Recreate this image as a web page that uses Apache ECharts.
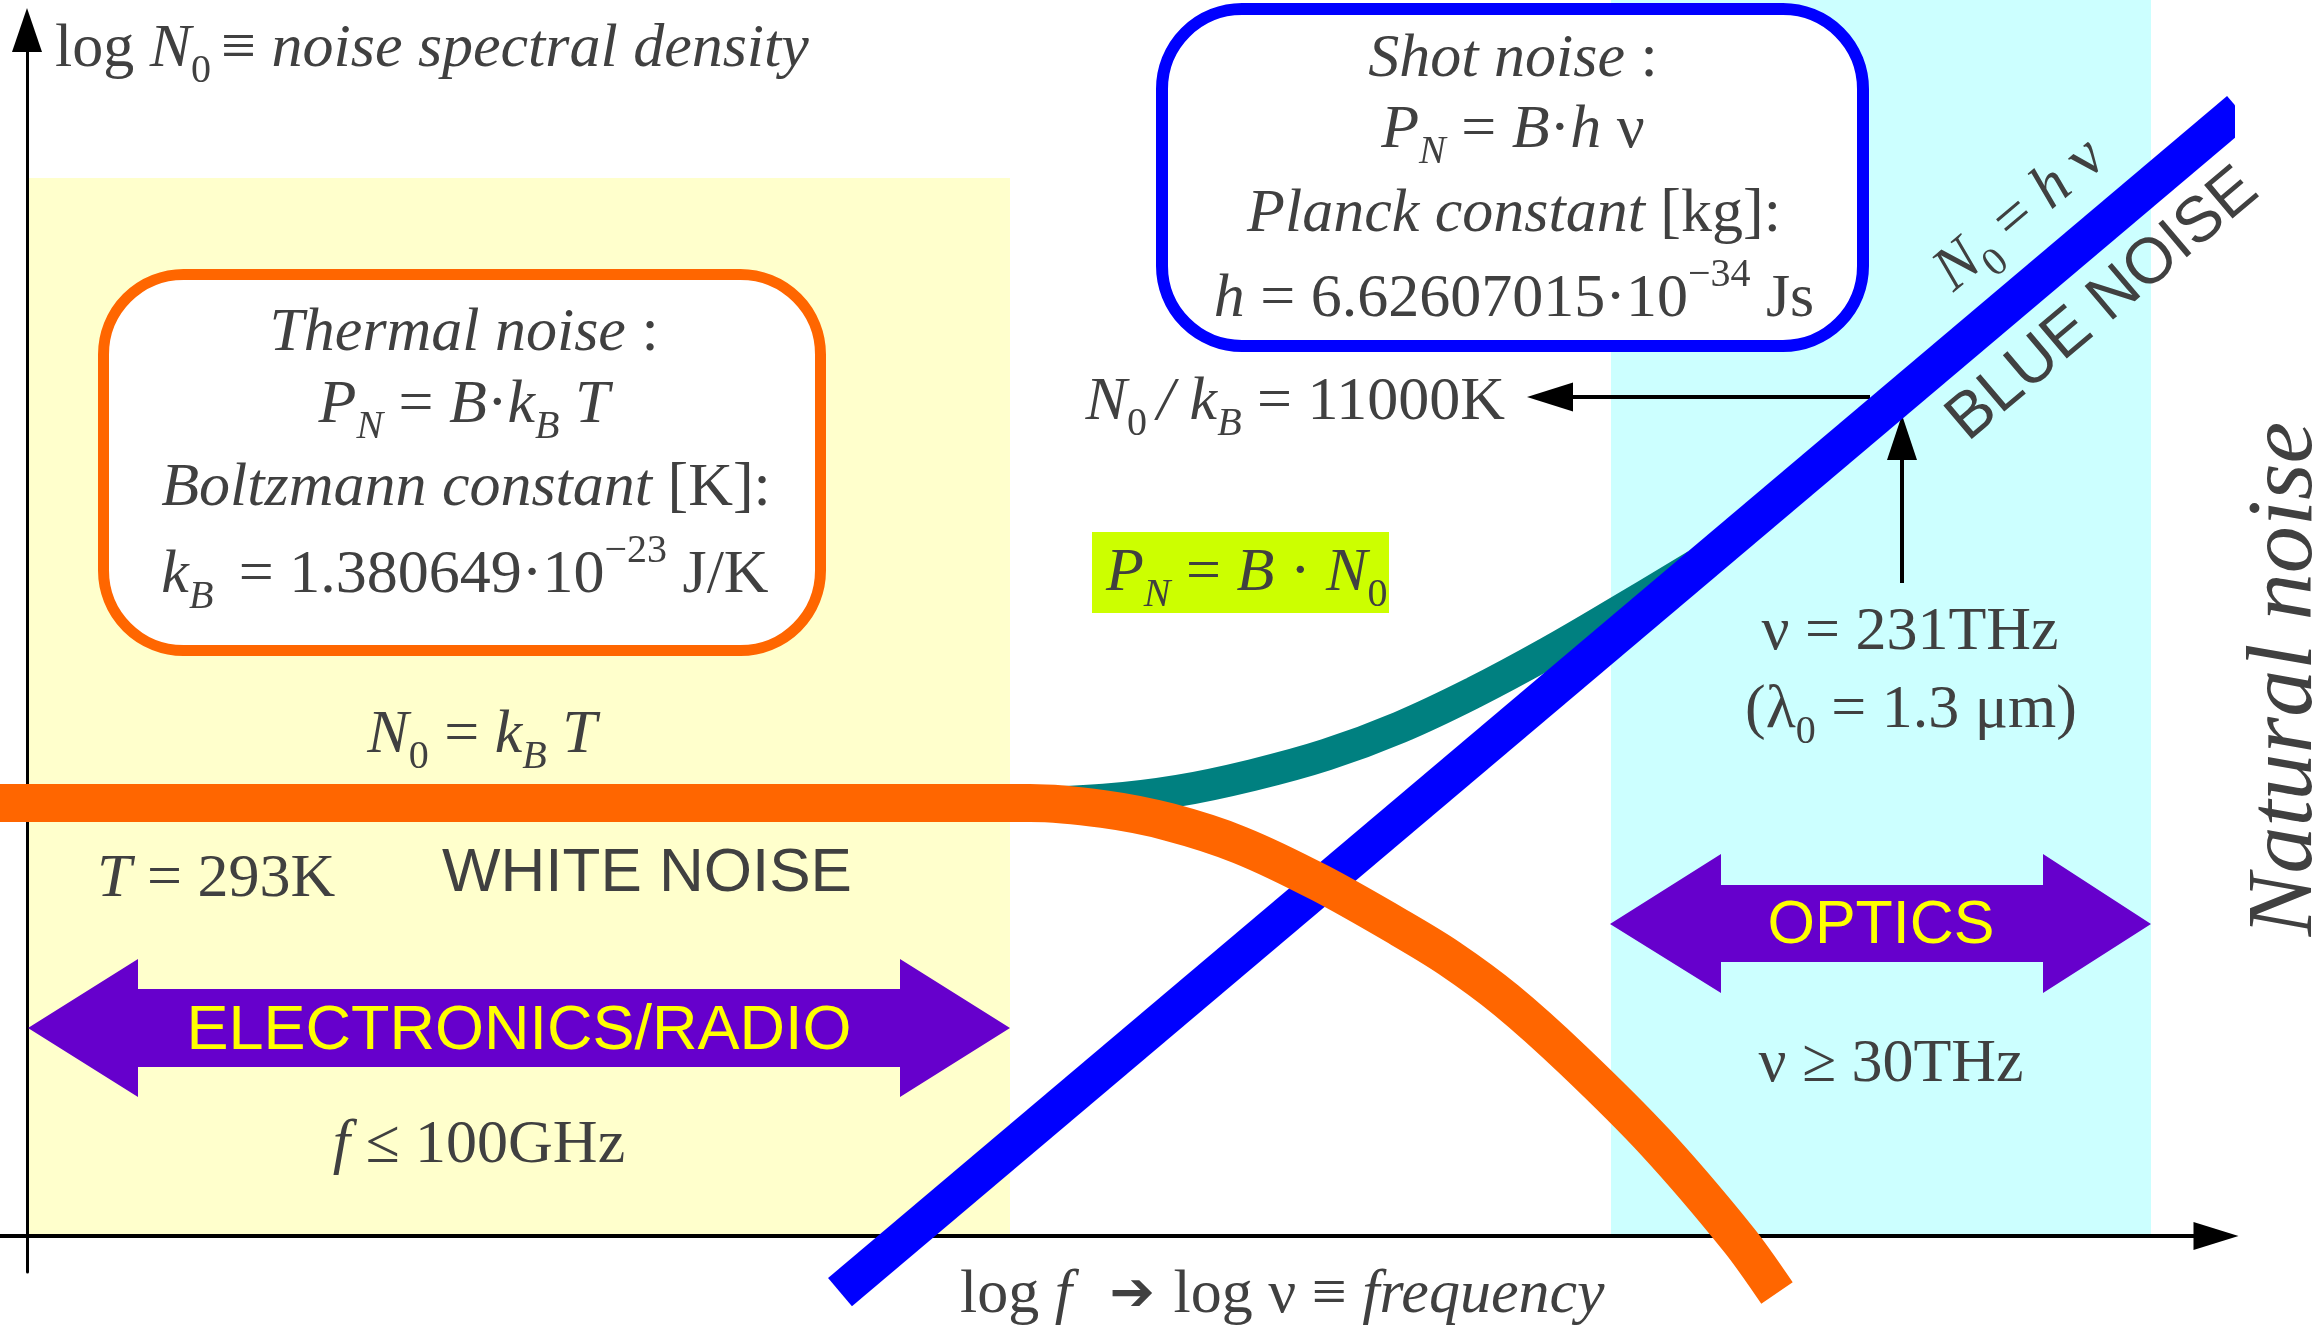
<!DOCTYPE html>
<html>
<head>
<meta charset="utf-8">
<script src="https://cdn.jsdelivr.net/npm/echarts@6/dist/echarts.min.js"></script>
<style>
html,body{margin:0;padding:0;background:#ffffff;}
#chart{width:2322px;height:1330px;}
</style>
</head>
<body>
<div id="chart"></div>
<script>
// ---------------- data (arbitrary log-log units) ----------------
// x = log frequency, y = log N0
const thermalNoise = [[-1.35,36.08],[33.65,36.08],[50.15,36.08],[53.8,35.58],[57.1,34.5],[60.65,32.58],[64.65,29.42],[68.65,25.67],[71.1,23.17],[73.95,19.67],[77.3,14.67],[81.45,7.75],[85.6,-0.33],[87.5,-4.75]];
const quantumNoise = [[50.15,36.08],[53.85,36.35],[57.55,37.1],[61.25,38.4],[64.95,40.1],[68.65,42.4],[72.35,45.3],[76.05,48.6],[79.75,52.2],[83.45,55.9]];
const blueNoise = [[40.65,-4.67],[110.6,93.83]];
// frequency bands
const bandNames = ['ELECTRONICS/RADIO','OPTICS'];
const bandStart = [0, 79.2];
const bandEnd = [49.15, 106.2];
const bandTop = [88.17, 103];
// axis ranges
const xRange = [-1.35, 109.45];
const yRange = [-3, 100.5];

// ---------------- styles ----------------
const SERIF = '"Liberation Serif","Times New Roman",serif';
const SANS = '"Liberation Sans",Arial,sans-serif';
const INK = '#404040';
const BAND_COLORS = ['#FFFFCC', '#CCFFFF'];
const RICH = {
  r:  {font: '62px ' + SERIF},
  i:  {font: 'italic 62px ' + SERIF},
  sb: {font: 'italic 40px ' + SERIF, padding: [43, 0, 0, 0]},
  s0: {font: '40px ' + SERIF, padding: [43, 0, 0, 0]},
  sp: {font: '40px ' + SERIF, padding: [0, 0, 49, 0]},
  ar: {font: 'bold 54px "DejaVu Sans"'}
};

function tx(text, x, y, o) {
  o = o || {};
  const al = o.align || 'center';
  return {
    type: 'text', x: x, y: y, z: o.z || 20, rotation: o.rot || 0, silent: true,
    style: {
      text: text, fill: o.fill || INK, font: o.font || ('62px ' + SERIF), rich: RICH,
      align: al, textAlign: al, verticalAlign: 'middle', textVerticalAlign: 'middle'
    }
  };
}

const ANG = 0.7016;

const elements = [
  // boxes
  {type: 'rect', z: 10, silent: true, shape: {x: 103.5, y: 274.5, width: 717, height: 376, r: 80},
   style: {fill: '#ffffff', stroke: '#FF6600', lineWidth: 11}},
  {type: 'rect', z: 10, silent: true, shape: {x: 1162, y: 9, width: 701, height: 337, r: 80},
   style: {fill: '#ffffff', stroke: '#0000FF', lineWidth: 12}},
  {type: 'rect', z: 10, silent: true, shape: {x: 1092, y: 532, width: 297, height: 81},
   style: {fill: '#CCFF00'}},
  // double arrows
  {type: 'polygon', z: 10, silent: true, shape: {points: [[28,1028],[138,959],[138,989],[900,989],[900,959],[1010,1028],[900,1097],[900,1067],[138,1067],[138,1097]]},
   style: {fill: '#6600CC'}},
  {type: 'polygon', z: 10, silent: true, shape: {points: [[1610,924],[1721,854],[1721,885],[2043,885],[2043,854],[2151,924],[2043,993],[2043,962],[1721,962],[1721,993]]},
   style: {fill: '#6600CC'}},
  // pointer arrows
  {type: 'line', z: 2.5, silent: true, shape: {x1: 1570, y1: 397, x2: 1870, y2: 397}, style: {stroke: '#000', lineWidth: 4}},
  {type: 'polygon', z: 2.5, silent: true, shape: {points: [[1527,397],[1573,382.5],[1573,411.5]]}, style: {fill: '#000'}},
  {type: 'line', z: 2.5, silent: true, shape: {x1: 1902, y1: 455, x2: 1902, y2: 583}, style: {stroke: '#000', lineWidth: 4}},
  {type: 'polygon', z: 2.5, silent: true, shape: {points: [[1902,415],[1887,460],[1917,460]]}, style: {fill: '#000'}},

  // texts
  tx('{r|log }{i|N}{s0|0 }{r|≡ }{i|noise spectral density}', 55, 50, {align: 'left'}),
  tx('{i|Shot noise}{r| :}', 1513, 60),
  tx('{i|P}{sb|N}{r| = }{i|B}{r|·}{i|h}{r| ν}', 1513, 131),
  tx('{i|Planck constant}{r| [kg]:}', 1514, 215),
  tx('{i|h}{r| = 6.62607015·10}{sp|−34}{r| Js}', 1514, 300),
  tx('{i|Thermal noise}{r| :}', 464, 334),
  tx('{i|P}{sb|N}{r| = }{i|B}{r|·}{i|k}{sb|B}{i| T}', 464, 406),
  tx('{i|Boltzmann constant}{r| [K]:}', 466, 489),
  tx('{i|k}{sb|B }{r| = 1.380649·10}{sp|−23}{r| J/K}', 465, 576),
  tx('{i|N}{s0|0}{r| = }{i|k}{sb|B}{i| T}', 482, 736),
  tx('{i|T}{r| = 293K}', 97, 880, {align: 'left'}),
  tx('WHITE NOISE', 647, 874, {font: '62px ' + SANS}),
  tx(bandNames[0], 519, 1032, {font: '63px ' + SANS, fill: '#FFFF00'}),
  tx('{i|f}{r| ≤ 100GHz}', 479, 1146),
  tx('{r|log }{i|f}{ar|  ➔ }{r|log ν ≡ }{i|frequency}', 960, 1296, {align: 'left'}),
  tx('{i|P}{sb|N}{r| = }{i|B}{r| · }{i|N}{s0|0}', 1106, 574, {align: 'left'}),
  tx('{i|N}{s0|0 }{i|/ }{i|k}{sb|B}{r| = 11000K}', 1505, 403, {align: 'right'}),
  tx('{r|ν = 231THz}', 1910, 633),
  tx('{r|(λ}{s0|0}{r| = 1.3 μm)}', 1911, 711),
  tx(bandNames[1], 1881, 926, {font: '61px ' + SANS, fill: '#FFFF00'}),
  tx('{r|ν ≥ 30THz}', 1891, 1065),
  tx('Natural noise', 2286, 679, {font: 'italic 94px ' + SERIF, rot: Math.PI / 2}),
  tx('{i|N}{s0|0}{r| = }{i|h}{r| ν}', 2020, 215, {rot: ANG}),
  tx('BLUE NOISE', 2103, 305, {font: '64px ' + SANS, rot: ANG})
];

function axisCommon(range, symSize, width) {
  return {
    type: 'value', min: range[0], max: range[1], z: 1,
    axisLine: {show: true, onZero: true, symbol: ['none', 'triangle'], symbolSize: symSize,
               lineStyle: {color: '#000000', width: width}},
    axisTick: {show: false}, axisLabel: {show: false}, splitLine: {show: false}
  };
}

const lineBase = {type: 'line', showSymbol: false, symbol: 'none', clip: false, silent: true,
                  emphasis: {disabled: true}};

const option = {
  animation: false,
  backgroundColor: '#ffffff',
  tooltip: {show: false},
  grid: {left: 0, right: 106, top: 30, bottom: 58, containLabel: false, outerBoundsMode: 'none'},
  xAxis: axisCommon(xRange, [28, 45], 4),
  yAxis: axisCommon(yRange, [30, 44], 3),
  series: [
    {
      type: 'custom', z: 0, silent: true, clip: false,
      encode: {x: [0, 1], y: [2, 3]},
      data: bandStart.map(function (s, i) { return [s, bandEnd[i], 0, bandTop[i]]; }),
      renderItem: function (params, api) {
        const a = api.coord([api.value(0), api.value(3)]);
        const b = api.coord([api.value(1), api.value(2)]);
        return {type: 'rect', shape: {x: a[0], y: a[1], width: b[0] - a[0], height: b[1] - a[1]},
                style: {fill: BAND_COLORS[params.dataIndex]}};
      }
    },
    Object.assign({}, lineBase, {name: 'quantum', z: 2, smooth: 0.4, data: quantumNoise,
      lineStyle: {color: '#008080', width: 32, cap: 'butt', join: 'round'}}),
    Object.assign({}, lineBase, {name: 'shot', z: 3, data: blueNoise,
      lineStyle: {color: '#0000FF', width: 37, cap: 'butt', join: 'round'}}),
    Object.assign({}, lineBase, {name: 'thermal', z: 4, smooth: 0.3, data: thermalNoise,
      lineStyle: {color: '#FF6600', width: 38, cap: 'butt', join: 'round'}})
  ],
  graphic: {elements: elements}
};

const chart = echarts.init(document.getElementById('chart'), null, {renderer: 'canvas'});
chart.setOption(option);
</script>
</body>
</html>
